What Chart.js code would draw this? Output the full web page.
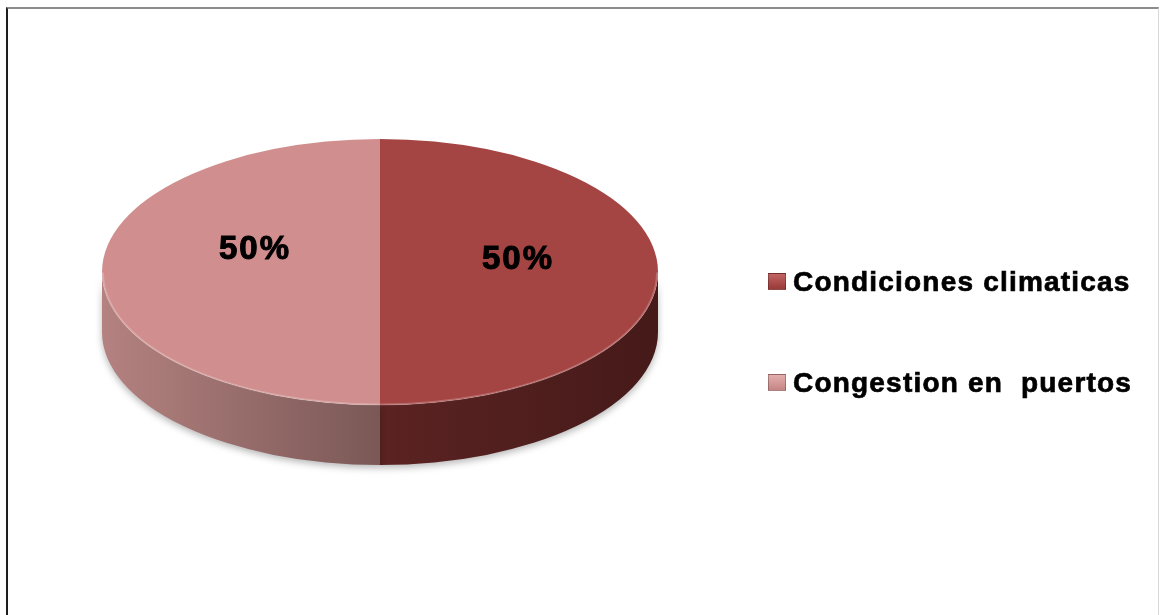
<!DOCTYPE html>
<html>
<head>
<meta charset="utf-8">
<script src="https://cdn.jsdelivr.net/npm/chart.js@4.4.0/dist/chart.umd.min.js"></script>
<style>
  html, body { margin: 0; padding: 0; background: #fff; }
  #wrap { position: relative; width: 1160px; height: 615px; overflow: hidden; }
  #frame {
    position: absolute; left: 6px; top: 7px; width: 1150px; height: 640px;
    border-top: 2px solid #8c8c8c; border-left: 2px solid #1e1e1e; border-right: 1px solid #d8d8d8;
  }
  #chart { position: absolute; left: 0; top: 0; }
  #legend { position: absolute; left: 768px; top: 266px; font-family: "Liberation Sans", Arial, sans-serif; }
  .item { display: flex; align-items: center; height: 31px; margin-bottom: 70px; white-space: pre; }
  .box {
    width: 18px; height: 17px; margin-right: 7px; box-sizing: border-box;
    border: 1px solid rgba(0,0,0,0.25);
  }
  .txt {
    font-weight: bold; font-size: 28px; color: #000;
    letter-spacing: 1.2px; -webkit-text-stroke: 0.7px #000;
  }
</style>
</head>
<body>
<div id="wrap">
  <div id="frame"></div>
  <canvas id="chart" width="1160" height="615"></canvas>
  <div id="legend"></div>
</div>
<script>
// Slices and their values
const categories = ['Condiciones climaticas', 'Congestion en  puertos'];
const shares = [50, 50];
const percentLabels = ['50%', '50%'];

// Colours: top face, side wall gradient (outer edge -> centre)
const topColors = ['#a54543', '#d08f8e'];
const sideColors = [['#451a19', '#5b2322'], ['#b48280', '#7a5856']];
const legendColors = [['#c26462', '#9a3a38'], ['#e3aeac', '#c58584']];

// Disc geometry
const TILT = 133 / 278;   // vertical squash of the disc
const DEPTH = 60;         // thickness of the disc
const TOP_Y = 272;        // centre of the top face on screen
const LABEL_NUDGE = [[-2, -12], [13, -22]];

const pie3d = {
  id: 'pie3d',
  beforeDatasetsDraw(chart) {
    const ctx = chart.ctx;
    const arcs = chart.getDatasetMeta(0).data;
    const cx = arcs[0].x;
    const rx = arcs[0].outerRadius;
    const ry = rx * TILT;

    // front walls: only the part of each slice between 0 and PI faces us
    arcs.forEach((arc, i) => {
      for (const k of [-2 * Math.PI, 0, 2 * Math.PI]) {
        const a = Math.max(arc.startAngle, k);
        const b = Math.min(arc.endAngle, Math.PI + k);
        if (b <= a) continue;
        const xa = cx + rx * Math.cos(a), xb = cx + rx * Math.cos(b);
        const outerX = Math.abs(xa - cx) > Math.abs(xb - cx) ? xa : xb;
        const innerX = outerX === xa ? xb : xa;
        const g = ctx.createLinearGradient(outerX, 0, innerX, 0);
        g.addColorStop(0, sideColors[i][0]);
        g.addColorStop(1, sideColors[i][1]);
        ctx.save();
        ctx.shadowColor = 'rgba(0,0,0,0.28)';
        ctx.shadowBlur = 7;
        ctx.shadowOffsetY = 3;
        ctx.beginPath();
        ctx.ellipse(cx, TOP_Y, rx, ry, 0, a, b);
        ctx.ellipse(cx, TOP_Y + DEPTH, rx, ry, 0, b, a, true);
        ctx.closePath();
        ctx.fillStyle = g;
        ctx.fill();
        ctx.restore();
      }
    });

    // squash the top face into an ellipse
    ctx.save();
    ctx.translate(0, TOP_Y);
    ctx.scale(1, TILT);
    ctx.translate(0, -arcs[0].y);
  },
  afterDatasetsDraw(chart) {
    const ctx = chart.ctx;
    ctx.restore();
    const arcs = chart.getDatasetMeta(0).data;
    const cx = arcs[0].x;
    const rx = arcs[0].outerRadius;
    const ry = rx * TILT;

    // light rim along the front edge of the top face
    ctx.save();
    ctx.beginPath();
    ctx.ellipse(cx, TOP_Y + 0.5, rx - 1, ry - 1, 0, 0, Math.PI);
    ctx.strokeStyle = 'rgba(255,255,255,0.22)';
    ctx.lineWidth = 2;
    ctx.stroke();
    ctx.restore();

    // percentage labels near each slice's centre
    ctx.save();
    ctx.font = 'bold 33px "Liberation Sans", Arial, sans-serif';
    ctx.letterSpacing = '2px';
    ctx.fillStyle = '#000';
    ctx.strokeStyle = '#000';
    ctx.lineWidth = 1;
    ctx.textAlign = 'center';
    ctx.textBaseline = 'middle';
    arcs.forEach((arc, i) => {
      const p = arc.getCenterPoint();
      const x = p.x + LABEL_NUDGE[i][0] + 1;
      const y = TOP_Y + (p.y - arc.y) * TILT + LABEL_NUDGE[i][1];
      ctx.fillText(percentLabels[i], x, y);
      ctx.strokeText(percentLabels[i], x, y);
    });
    ctx.restore();
  }
};

new Chart(document.getElementById('chart'), {
  type: 'pie',
  data: {
    labels: categories,
    datasets: [{
      data: shares,
      backgroundColor: topColors,
      borderWidth: 0
    }]
  },
  options: {
    responsive: false,
    animation: false,
    events: [],
    layout: { padding: { left: 102, right: 502, top: 20, bottom: 39 } },
    plugins: {
      legend: { display: false },
      tooltip: { enabled: false }
    }
  },
  plugins: [pie3d]
});

// legend built from the same categories
const legend = document.getElementById('legend');
categories.forEach((name, i) => {
  const item = document.createElement('div');
  item.className = 'item';
  const box = document.createElement('span');
  box.className = 'box';
  box.style.background = 'linear-gradient(180deg, ' + legendColors[i][0] + ', ' + legendColors[i][1] + ')';
  const txt = document.createElement('span');
  txt.className = 'txt';
  txt.textContent = name;
  item.appendChild(box);
  item.appendChild(txt);
  legend.appendChild(item);
});
</script>
</body>
</html>
